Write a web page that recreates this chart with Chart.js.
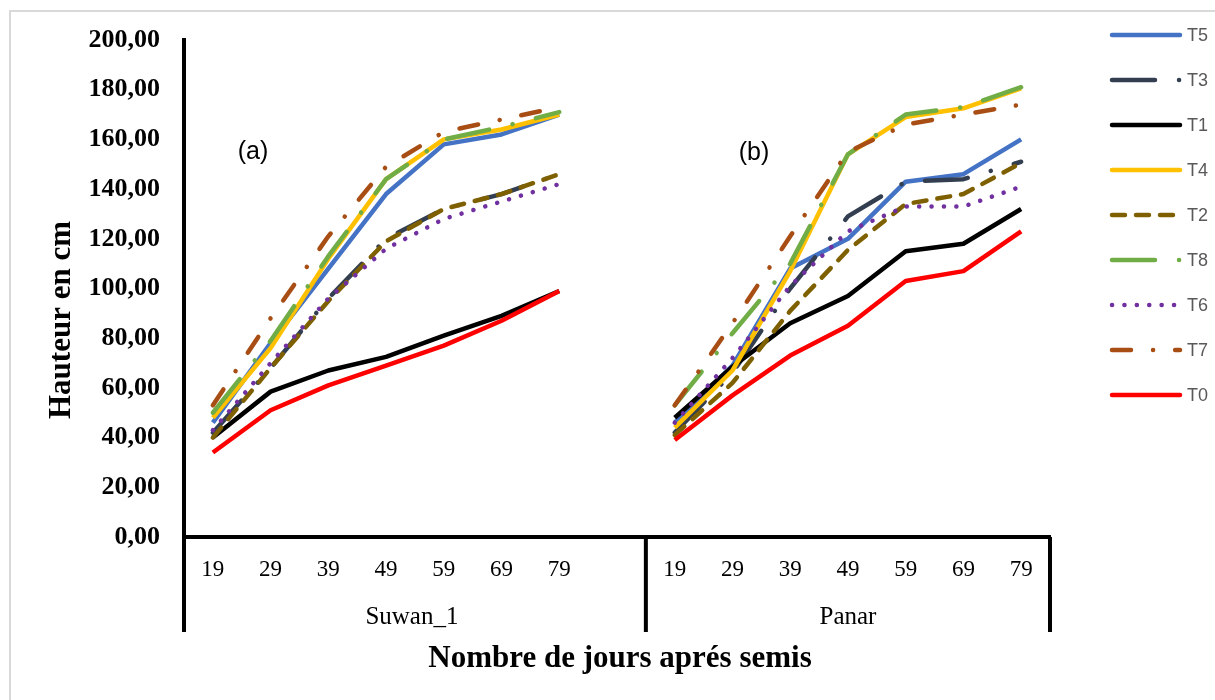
<!DOCTYPE html>
<html>
<head>
<meta charset="utf-8">
<script src="https://cdn.jsdelivr.net/npm/chart.js@4.4.1/dist/chart.umd.min.js"></script>
<style>
  html, body { margin: 0; padding: 0; background: #fff; }
  #wrap { width: 1215px; height: 700px; position: relative; }
</style>
</head>
<body>
<div id="wrap"><canvas id="heightChart" width="1215" height="700"></canvas></div>
<script>
/* ---------- Data ---------- */
const days      = ["19", "29", "39", "49", "59", "69", "79"];
const varieties = ["Suwan_1", "Panar"];
const panelTags = ["(a)", "(b)"];

const t5Suwan = [46, 78, 108, 138, 158, 162, 170];
const t5Panar = [46, 69, 108, 120, 143, 146, 160];
const t3Suwan = [42, 68, 96, 120, 132, 138, 146];
const t3Panar = [42, 66, 100, 129, 143, 144, 151];
const t1Suwan = [40, 58.5, 67, 72.5, 81, 89, 99];
const t1Panar = [48, 68.5, 86, 97, 115, 118, 132];
const t4Suwan = [48, 76, 112, 144, 160, 164, 170];
const t4Panar = [44, 67, 107, 154, 169, 172.5, 180.5];
const t2Suwan = [40, 68, 95, 119, 132, 138, 146];
const t2Panar = [41, 62, 91, 115.5, 134, 138, 150.5];
const t8Suwan = [50, 79, 113, 144, 160, 165, 171];
const t8Panar = [53, 82, 110, 154, 170, 173, 181];
const t6Suwan = [43, 70, 96, 116, 128, 135, 142];
const t6Panar = [46, 72, 101, 123, 133, 133, 141];
const t7Suwan = [53, 88, 121, 149, 163, 168, 173];
const t7Panar = [53, 86, 121, 155, 166, 170, 174];
const t0Suwan = [34, 51, 61, 69, 77, 87, 99];
const t0Panar = [39, 57, 73, 85, 103, 107, 123];

/* ---------- Helpers ---------- */
// left block + one empty slot + right block
const labels = [...days, "", ...days];
const join   = (a, b) => [...a, null, ...b];

const LW = 4.5;
const serif = "'Liberation Serif', 'Times New Roman', serif";

const series = [
  { label: "T5", data: join(t5Suwan, t5Panar), color: "#4472C4", dash: [] },
  { label: "T3", data: join(t3Suwan, t3Panar), color: "#333F50", dash: [43, 24, 0.1, 24], cap: "round" },
  { label: "T1", data: join(t1Suwan, t1Panar), color: "#000000", dash: [] },
  { label: "T4", data: join(t4Suwan, t4Panar), color: "#FFC000", dash: [] },
  { label: "T2", data: join(t2Suwan, t2Panar), color: "#7F6000", dash: [13, 11], cap: "round" },
  { label: "T8", data: join(t8Suwan, t8Panar), color: "#70AD47", dash: [43, 24, 0.1, 24], cap: "round" },
  { label: "T6", data: join(t6Suwan, t6Panar), color: "#7030A0", dash: [0.1, 12.3], cap: "round" },
  { label: "T7", data: join(t7Suwan, t7Panar), color: "#A84E14", dash: [19, 22, 0.1, 22], cap: "round" },
  { label: "T0", data: join(t0Suwan, t0Panar), color: "#FF0000", dash: [] }
];

const datasets = series.map((s, i) => ({
  label: s.label,
  data: s.data,
  borderColor: s.color,
  backgroundColor: s.color,
  borderWidth: LW,
  borderDash: s.dash,
  borderCapStyle: s.cap || "butt",
  borderJoinStyle: "round",
  pointRadius: 0,
  tension: 0,
  spanGaps: false,
  fill: false,
  order: series.length - i   // later series sit on top
}));

/* ---------- Extra drawing: frame, category groups, titles, legend ---------- */
const decor = {
  id: "decor",
  afterDraw(chart) {
    const { ctx, chartArea: ca, scales: { x } } = chart;
    ctx.save();

    // light frame of the figure
    ctx.strokeStyle = "#d9d9d9";
    ctx.lineWidth = 2;
    ctx.beginPath();
    ctx.moveTo(10, 700); ctx.lineTo(10, 11); ctx.lineTo(1215, 11);
    ctx.stroke();

    // group separators under the axis
    const sep = (x.getPixelForValue(7) + x.getPixelForValue(8)) / 2;
    const bottom = 632;
    ctx.strokeStyle = "#000";
    ctx.lineWidth = 4;
    ctx.beginPath();
    [ca.left, sep, ca.right].forEach(px => {
      ctx.moveTo(px, ca.bottom); ctx.lineTo(px, bottom);
    });
    ctx.stroke();

    // variety names
    ctx.fillStyle = "#000";
    ctx.font = `25px ${serif}`;
    ctx.textAlign = "center";
    ctx.textBaseline = "middle";
    ctx.fillText(varieties[0], (ca.left + sep) / 2 - 3, 617);
    ctx.fillText(varieties[1], (sep + ca.right) / 2, 617);

    // axis titles
    ctx.font = `bold 31px ${serif}`;
    ctx.fillText("Nombre de jours aprés semis", 620, 659);
    ctx.save();
    ctx.translate(62, 320);
    ctx.rotate(-Math.PI / 2);
    ctx.fillText("Hauteur en cm", 0, 0);
    ctx.restore();

    // panel tags
    ctx.font = "25px 'Liberation Sans', sans-serif";
    ctx.fillText(panelTags[0], 253, 152);
    ctx.fillText(panelTags[1], 754, 153);

    // legend
    ctx.textAlign = "left";
    ctx.font = "18px 'Liberation Sans', sans-serif";
    chart.data.datasets.forEach((ds, i) => {
      const y = 35 + i * 45;
      ctx.strokeStyle = ds.borderColor;
      ctx.lineWidth = LW;
      ctx.lineCap = "round";
      ctx.setLineDash(ds.borderDash);
      ctx.beginPath();
      ctx.moveTo(1112, y); ctx.lineTo(1180, y);
      ctx.stroke();
      ctx.setLineDash([]);
      ctx.fillStyle = "#595959";
      ctx.fillText(ds.label, 1187, y + 1);
    });

    ctx.restore();
  }
};

/* ---------- Chart ---------- */
new Chart(document.getElementById("heightChart"), {
  type: "line",
  data: { labels, datasets },
  options: {
    responsive: false,
    devicePixelRatio: 1,
    animation: false,
    layout: { padding: { left: 0, right: 165, top: 40, bottom: 0 } },
    plugins: { legend: { display: false }, tooltip: { enabled: false } },
    scales: {
      x: {
        offset: true,
        grid: { display: false, drawTicks: false },
        border: { display: true, color: "#000", width: 4 },
        ticks: {
          color: "#000",
          font: { family: serif, size: 23 },
          padding: 19,
          maxRotation: 0,
          autoSkip: false
        },
        afterFit: s => { s.height = 163; }
      },
      y: {
        min: 0,
        max: 200,
        grid: { display: false, drawTicks: false },
        border: { display: true, color: "#000", width: 4 },
        ticks: {
          stepSize: 20,
          color: "#000",
          font: { family: serif, size: 26, weight: "bold" },
          padding: 24,
          callback: v => v.toFixed(2).replace(".", ",")
        },
        afterFit: s => { s.width = 184; }
      }
    }
  },
  plugins: [decor]
});
</script>
</body>
</html>
